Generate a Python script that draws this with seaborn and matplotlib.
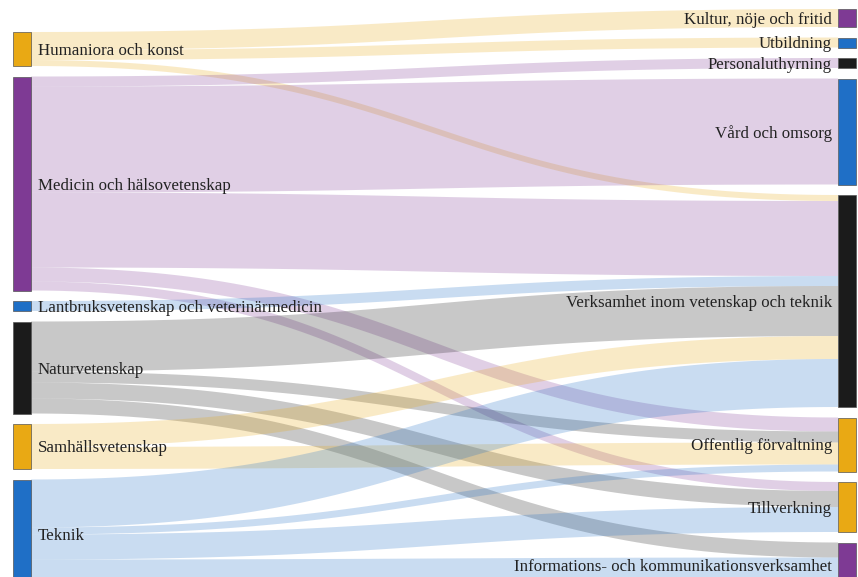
import numpy as np
import matplotlib.pyplot as plt
import seaborn as sns
from matplotlib.patches import Rectangle, Polygon

# källor (vänster) och mål (höger)
kallor = ["Humaniora och konst", "Medicin och hälsovetenskap",
          "Lantbruksvetenskap och veterinärmedicin", "Naturvetenskap",
          "Samhällsvetenskap", "Teknik"]
mal = ["Kultur, nöje och fritid", "Utbildning", "Personaluthyrning",
       "Vård och omsorg", "Verksamhet inom vetenskap och teknik",
       "Offentlig förvaltning", "Tillverkning",
       "Informations- och kommunikationsverksamhet"]

# flöden: (källa, mål, värde) uppskattade från bilden
flode_kalla = [0, 0, 0, 1, 1, 1, 1, 1, 2, 3, 3, 3, 3, 4, 4, 5, 5, 5, 5]
flode_mal = [0, 1, 4, 2, 3, 4, 5, 6, 4, 4, 5, 6, 7, 4, 5, 4, 5, 6, 7]
flode_varde = [18, 10, 6, 10, 106, 75, 14, 9, 10, 50, 11, 16, 15, 23, 22, 48, 7, 25, 30]

ORANGE = "#E9A914"
LILA = "#7E3A94"
BLA = "#1F6FC6"
SVART = "#1B1B1B"
farg_kalla = [ORANGE, LILA, BLA, SVART, ORANGE, BLA]
farg_mal = [LILA, BLA, SVART, BLA, SVART, ORANGE, ORANGE, LILA]

sns.set_theme(style="white")
plt.rcParams['font.family'] = ['Liberation Serif', 'DejaVu Serif']

W, H = 858, 577
fig = plt.figure(figsize=(W / 100, H / 100), dpi=100)
ax = fig.add_axes([0, 0, 1, 1])
ax.set_xlim(0, W)
ax.set_ylim(H, 0)
ax.axis("off")

skala = 1.0
gap = 10.5
nod_b = 18
x_v, x_h = 13, W - 2 - nod_b
topp_v, topp_h = 32, 9

n = len(flode_varde)
sum_k = np.zeros(len(kallor))
sum_m = np.zeros(len(mal))
for s, t, v in zip(flode_kalla, flode_mal, flode_varde):
    sum_k[s] += v
    sum_m[t] += v


def layout(summor, topp):
    y = topp
    pos = []
    for v in summor:
        pos.append(y)
        y += v * skala + gap
    return pos


y_k = layout(sum_k, topp_v)
y_m = layout(sum_m, topp_h)

# positioner för varje flöde i käll- resp. målnod
off_k = list(y_k)
off_m = list(y_m)
start = [0] * n
slut = [0] * n
for i in sorted(range(n), key=lambda i: (flode_kalla[i], flode_mal[i])):
    start[i] = off_k[flode_kalla[i]]
    off_k[flode_kalla[i]] += flode_varde[i] * skala
for i in sorted(range(n), key=lambda i: (flode_mal[i], flode_kalla[i])):
    slut[i] = off_m[flode_mal[i]]
    off_m[flode_mal[i]] += flode_varde[i] * skala

x0, x1 = x_v + nod_b, x_h
tt = np.linspace(0, 1, 80)
bx = (1 - tt) ** 3 * x0 + 3 * (1 - tt) ** 2 * tt * (x0 + x1) / 2 + \
    3 * (1 - tt) * tt ** 2 * (x0 + x1) / 2 + tt ** 3 * x1


def kurva(ya, yb):
    return (1 - tt) ** 3 * ya + 3 * (1 - tt) ** 2 * tt * ya + \
        3 * (1 - tt) * tt ** 2 * yb + tt ** 3 * yb


for i in range(n):
    h = flode_varde[i] * skala
    ov = kurva(start[i], slut[i])
    un = kurva(start[i] + h, slut[i] + h)
    pts = np.vstack([np.column_stack([bx, ov]), np.column_stack([bx[::-1], un[::-1]])])
    ax.add_patch(Polygon(pts, closed=True, facecolor=farg_kalla[flode_kalla[i]],
                         alpha=0.24, edgecolor="none"))

for j, namn in enumerate(kallor):
    h = sum_k[j] * skala
    ax.add_patch(Rectangle((x_v, y_k[j]), nod_b, h, facecolor=farg_kalla[j],
                           edgecolor="#555555", lw=0.5))
    ax.text(x_v + nod_b + 7, y_k[j] + h / 2, namn, ha="left", va="center_baseline",
            fontsize=12.2, color="#222222")

for j, namn in enumerate(mal):
    h = sum_m[j] * skala
    ax.add_patch(Rectangle((x_h, y_m[j]), nod_b, h, facecolor=farg_mal[j],
                           edgecolor="#555555", lw=0.5))
    ax.text(x_h - 6, y_m[j] + h / 2, namn, ha="right", va="center_baseline",
            fontsize=12.2, color="#222222")

fig.savefig("out.png", dpi=100)
